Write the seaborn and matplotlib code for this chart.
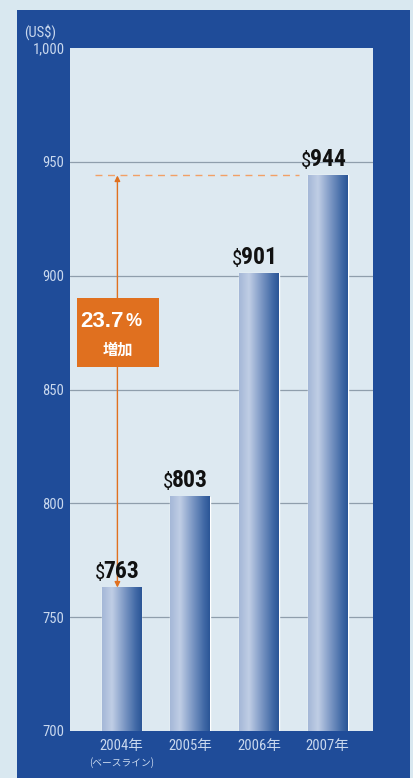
import numpy as np
import pandas as pd
import matplotlib
matplotlib.use("Agg")
import matplotlib.pyplot as plt
import seaborn as sns
from matplotlib.patches import Rectangle
from matplotlib.colors import LinearSegmentedColormap
import matplotlib.transforms as mtransforms
from matplotlib import font_manager

years = ["2004年", "2005年", "2006年", "2007年"]
values = [763, 803, 901, 944]
value_labels = ["763", "803", "901", "944"]
yticks = [700, 750, 800, 850, 900, 950, 1000]
ytick_labels = ["700", "750", "800", "850", "900", "950", "1,000"]
growth_label = "23.7"
growth_pct = "%"
growth_sub = "増加"
baseline_note = "(ベースライン)"
unit_label = "(US$)"

names = {f.name for f in font_manager.fontManager.ttflist}
cond = None
for cand in ["Liberation Sans Narrow", "DejaVu Sans Condensed", "Roboto Condensed", "Open Sans Condensed"]:
    if cand in names:
        cond = cand
        break
if cond is None:
    cond = "Liberation Sans"

sns.set_theme(style="white")
plt.rcParams['font.family'] = [cond, 'Noto Sans CJK JP', 'DejaVu Sans']

OUTER = "#d9e8f0"
PANEL = "#1f4c99"
PLOTBG = "#dde9f1"
TICKC = "#c9d8ee"
ORANGE = "#e0701f"
YMIN, YMAX = 700, 1000

fig = plt.figure(figsize=(4.14, 7.78), dpi=100)
fig.patch.set_facecolor(OUTER)
fig.patches.append(Rectangle((17/414, 0), (410-17)/414, (778-10)/778,
                             transform=fig.transFigure, facecolor=PANEL,
                             edgecolor="none", zorder=-5))

ax = fig.add_axes([70/414, (778-731)/778, (373-70)/414, (731-48)/778])
ax.set_zorder(2)
ax.set_facecolor(PLOTBG)

df = pd.DataFrame({"year": years, "value": values})
sns.barplot(data=df, x="year", y="value", ax=ax, color="#6f8cbf",
            width=0.58, zorder=3)

ax.set_yticks(yticks)
ax.set_yticklabels(ytick_labels)
ax.set_xlabel("")
ax.set_ylabel("")
for s in ax.spines.values():
    s.set_visible(False)
ax.tick_params(axis="both", length=0, colors=TICKC, labelsize=10.5)
ax.tick_params(axis="y", pad=4)
ax.tick_params(axis="x", pad=6)
for t in yticks[1:-1]:
    ax.axhline(t, color="#8f9eac", lw=0.9, zorder=1)

# gradient fill for bars
cmap = LinearSegmentedColormap.from_list(
    "barg", [(0.0, "#a4b7d7"), (0.25, "#c0cee5"), (0.55, "#7f9ac6"),
             (0.85, "#4169a6"), (1.0, "#2a5596")])
grad = np.linspace(0, 1, 256).reshape(1, -1)
for p in list(ax.patches):
    x0 = p.get_x()
    w, h = p.get_width(), p.get_height()
    top = p.get_y() + h
    ax.imshow(grad, cmap=cmap, aspect="auto", extent=[x0, x0 + w, YMIN, top],
              zorder=4, interpolation="bicubic")
ax.set_xlim(-0.75, 3.66)
ax.set_ylim(YMIN, YMAX)
ax.set_aspect("auto")

# value labels
for i, (v, lab) in enumerate(zip(values, value_labels)):
    ax.annotate("$", (i, v), xytext=(-12, 3), textcoords="offset points",
                ha="right", va="bottom", fontsize=15, color="#111111", zorder=6)
    ax.annotate(lab, (i, v), xytext=(-13, 3), textcoords="offset points",
                ha="left", va="bottom", fontsize=17, fontweight="bold",
                color="#111111", zorder=6)

# dashed reference line and arrow
ax.plot([-0.39, 2.58], [values[-1], values[-1]], ls=(0, (5, 4)), color="#f2a066",
        lw=1.0, zorder=5)
ax.annotate("", xy=(-0.06, values[0]), xytext=(-0.06, values[-1]),
            arrowprops=dict(arrowstyle="<|-|>", color=ORANGE, lw=1.0,
                            mutation_scale=8, shrinkA=0, shrinkB=0), zorder=5)

# growth box
ax.add_patch(Rectangle((-0.65, 859.7), 1.2, 30.3, facecolor=ORANGE,
                       edgecolor="none", zorder=6))
ax.annotate(growth_label, (-0.05, 880), xytext=(4, 0), textcoords="offset points",
            ha="right", va="center", color="white", fontsize=16, fontweight="bold",
            family=['Liberation Sans', 'DejaVu Sans'], zorder=7)
ax.annotate(growth_pct, (-0.05, 880), xytext=(5, 0), textcoords="offset points",
            ha="left", va="center", color="white", fontsize=13, fontweight="bold",
            family=['Liberation Sans', 'DejaVu Sans'], zorder=7)
ax.text(-0.05, 867.5, growth_sub, ha="center", va="center", color="white",
        fontsize=11, fontweight="bold", family=['Noto Sans CJK JP'], zorder=7)

# baseline note under first tick
trans = mtransforms.blended_transform_factory(ax.transData, fig.transFigure)
ax.text(0, (778-763)/778, baseline_note, transform=trans, ha="center", va="center",
        color=TICKC, fontsize=7, family=['Noto Sans CJK JP'])

fig.text(24/414, (778-32)/778, unit_label, ha="left", va="center", color=TICKC,
         fontsize=10.5)

fig.savefig("out.png", dpi=100, facecolor=fig.get_facecolor())
